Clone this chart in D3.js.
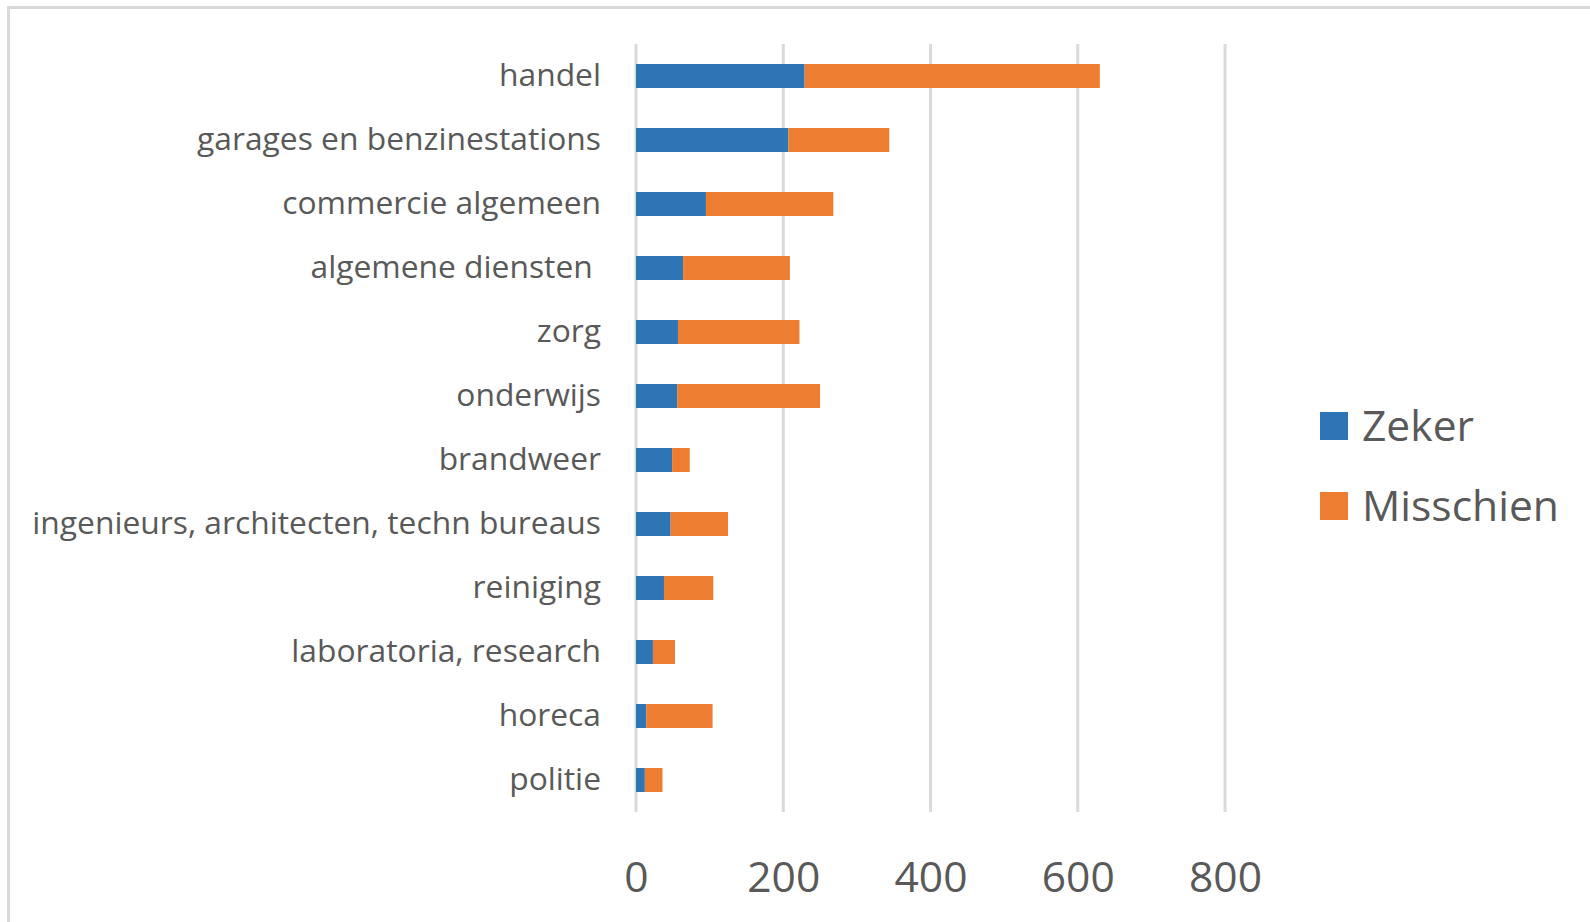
<!DOCTYPE html>
<html><head><meta charset="utf-8">
<script src="https://cdn.jsdelivr.net/npm/d3@7"></script>
<style>
html,body{margin:0;padding:0;background:#fff;}
svg text{font-family:"Open Sans",sans-serif;fill:#595959;white-space:pre;}
</style></head>
<body>
<svg id="chart" width="1590" height="922"></svg>
<script>
const categories = ["handel","garages en benzinestations","commercie algemeen","algemene diensten ","zorg","onderwijs","brandweer","ingenieurs, architecten, techn bureaus","reiniging","laboratoria, research","horeca","politie"];
const zeker     = [229, 207, 95, 64, 57, 56, 49, 47, 38, 23, 14, 12];
const misschien = [401, 137, 173, 145, 165, 194, 24, 78, 67, 30, 90, 24];
const seriesNames = ["Zeker","Misschien"];
const seriesColors = ["#2E75B6","#ED7D31"];
const tickValues = [0, 200, 400, 600, 800];

const svg = d3.select("#chart");

// outer border (chart area)
svg.append("rect").attr("x",8.5).attr("y",7.5).attr("width",1600).attr("height",1000)
  .attr("fill","none").attr("stroke","#d9d9d9").attr("stroke-width",3);

const x = d3.scaleLinear().domain([0,800]).range([636,1225]);
const y = d3.scaleBand().domain(categories).range([44,812]).paddingInner(0.625).paddingOuter(0.3125);

function fitSize(text, target){
  const t = svg.append("text").attr("font-size",100).text(text);
  const w = t.node().getComputedTextLength();
  t.remove();
  return 100*target/w;
}
const catSize = fitSize("ingenieurs, architecten, techn bureaus", 569);
const tickSize = fitSize("200", 73);
const legSize = fitSize("Misschien", 197);

// gridlines
svg.append("g").selectAll("line").data(tickValues).join("line")
  .attr("x1",d=>x(d)).attr("x2",d=>x(d)).attr("y1",44).attr("y2",812)
  .attr("stroke","#d9d9d9").attr("stroke-width",3);

// stacked data
const rows = categories.map((c,i)=>({cat:c, Zeker:zeker[i], Misschien:misschien[i]}));
const stack = d3.stack().keys(seriesNames)(rows);

svg.append("g").selectAll("g").data(stack).join("g")
  .attr("fill",(d,i)=>seriesColors[i])
  .selectAll("rect").data(d=>d).join("rect")
  .attr("x",d=>x(d[0])).attr("width",d=>x(d[1])-x(d[0]))
  .attr("y",d=>y(d.data.cat)).attr("height",y.bandwidth());

// x-axis tick labels
const xAxis = d3.axisBottom(x).tickValues(tickValues).tickSize(0).tickPadding(0);
const gx = svg.append("g").attr("transform","translate(0,892)").call(xAxis);
gx.select(".domain").remove();
gx.selectAll("text").attr("font-size",tickSize).attr("font-family","Open Sans").attr("fill","#595959")
  .attr("dy",0).attr("y",0);

// category labels
const yAxis = d3.axisLeft(y).tickSize(0).tickPadding(0);
const gy = svg.append("g").attr("transform","translate(601,0)").call(yAxis);
gy.select(".domain").remove();
gy.selectAll("text").attr("font-size",catSize).attr("font-family","Open Sans").attr("fill","#595959")
  .attr("x",0).attr("dy","0.32em");

// legend
const leg = svg.append("g");
const legY = [426, 506];
seriesNames.forEach((s,i)=>{
  leg.append("rect").attr("x",1320).attr("y",legY[i]-14).attr("width",28).attr("height",28).attr("fill",seriesColors[i]);
  leg.append("text").attr("x",1362).attr("y",legY[i]).attr("dy","0.36em").attr("font-size",legSize).text(s);
});
</script>
</body></html>
